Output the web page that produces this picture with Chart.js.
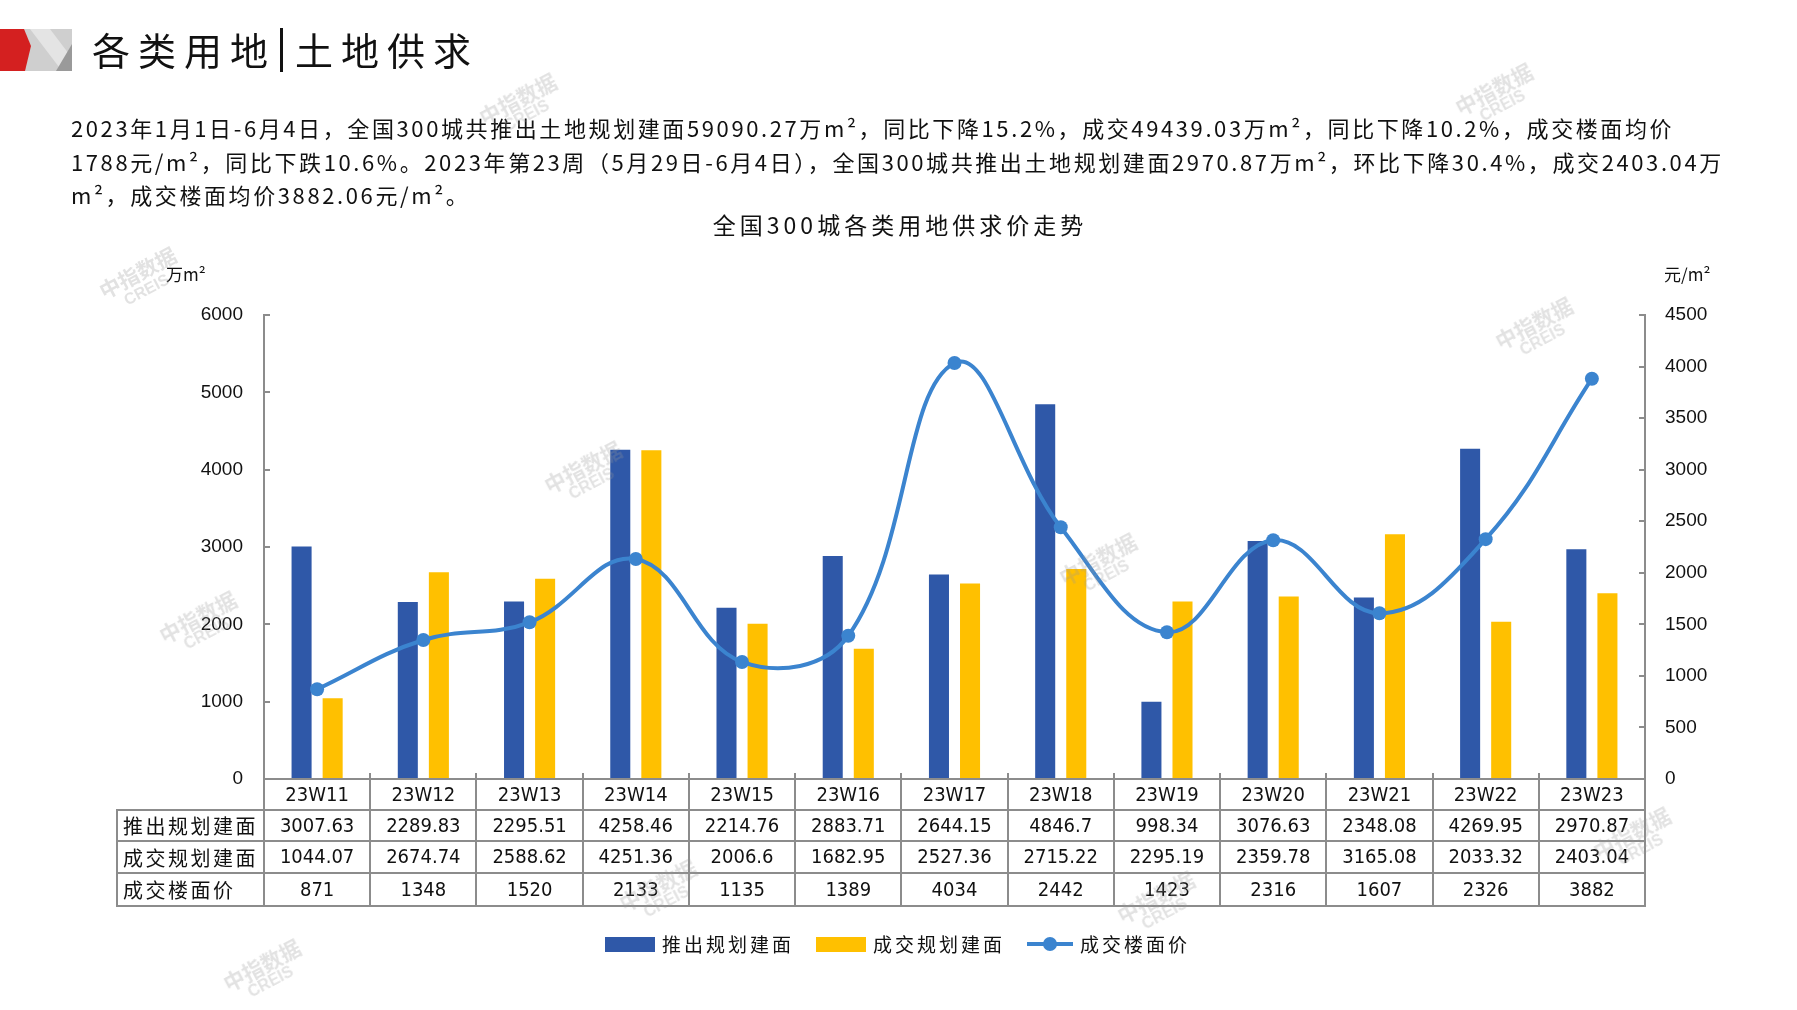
<!DOCTYPE html>
<html lang="zh-CN">
<head>
<meta charset="utf-8">
<title>各类用地|土地供求</title>
<script src="https://cdn.jsdelivr.net/npm/chart.js@4.4.1/dist/chart.umd.min.js"></script>
<style>
  html, body { margin: 0; padding: 0; background: #fff; }
  body { position: relative; width: 1797px; height: 1010px; overflow: hidden;
         font-family: "DejaVu Sans Condensed", "Noto Sans CJK SC", sans-serif; color: #111; }
  #landChart { position: absolute; left: 0; top: 0; }
  .logo { position: absolute; left: 0; top: 0; }
  .page-title { position: absolute; left: 92px; top: 24px; font-family: "Noto Sans CJK SC", sans-serif;
                font-size: 38px; line-height: 50px; letter-spacing: 8px; }
  .page-title .bar { display: inline-block; width: 3px; height: 44px; background: #111;
                     vertical-align: -7px; margin: 0 12px 0 4px; color: transparent; overflow: hidden; }
  .summary { position: absolute; left: 71px; top: 111px; font-family: "Noto Sans CJK SC", sans-serif;
             font-size: 22px; line-height: 33.5px; letter-spacing: 2.6px; white-space: nowrap; }
  .chart-title { position: absolute; left: 0; width: 1800px; top: 209px; text-align: center;
                 font-family: "Noto Sans CJK SC", sans-serif; font-size: 23px; line-height: 30px; letter-spacing: 4px; }
  .unit { position: absolute; top: 262px; font-family: "Noto Sans CJK SC", sans-serif; font-size: 17px; line-height: 24px; }
  .legend { position: absolute; left: 605px; top: 930px; display: flex; align-items: center;
            font-family: "Noto Sans CJK SC", sans-serif; font-size: 19px; line-height: 28px; }
  .legend .sw { display: inline-block; width: 50px; height: 15px; margin-right: 7px; }
  .legend .item { display: flex; align-items: center; margin-right: 22px; letter-spacing: 3px; }
  .legend .ln { position: relative; display: inline-block; width: 46px; height: 4px; margin-right: 7px; background: #3B84CF; }
  .legend .ln::after { content: ""; position: absolute; left: 16px; top: -5px; width: 14px; height: 14px; border-radius: 50%; background: #3B84CF; }
  .wm { position: absolute; transform: rotate(-28deg); color: rgba(150,150,150,0.28); font-family: "Noto Sans CJK SC", sans-serif;
        font-weight: bold; font-size: 21px; line-height: 19px; text-align: center; pointer-events: none; }
  .wm span { display: block; font-family: "Liberation Sans", sans-serif; font-size: 16px; }
</style>
</head>
<body>
<canvas id="landChart" width="1797" height="1010"></canvas>

<svg class="logo" width="80" height="80" viewBox="0 0 80 80">
  <polygon points="20,29 72,29 72,71 22,71" fill="#cfcfcf"/>
  <polygon points="30,29 50,29 72,58 72,71 62,71" fill="#e4e4e4"/>
  <polygon points="72,44 72,71 56,71" fill="#9a9a9a"/>
  <polygon points="0,29 24,29 31,46 25,71 0,71" fill="#d42020"/>
</svg>
<div class="page-title">各类用地<span class="bar">|</span>土地供求</div>

<div class="summary">2023年1月1日-6月4日，全国300城共推出土地规划建面59090.27万m²，同比下降15.2%，成交49439.03万m²，同比下降10.2%，成交楼面均价<br>1788元/m²，同比下跌10.6%。2023年第23周（5月29日-6月4日），全国300城共推出土地规划建面2970.87万m²，环比下降30.4%，成交2403.04万<br>m²，成交楼面均价3882.06元/m²。</div>

<div class="chart-title">全国300城各类用地供求价走势</div>
<div class="unit" style="left:166px">万m²</div>
<div class="unit" style="left:1664px">元/m²</div>

<div class="legend">
  <div class="item"><span class="sw" style="background:#2F58A8"></span>推出规划建面</div>
  <div class="item"><span class="sw" style="background:#FFC000"></span>成交规划建面</div>
  <div class="item"><span class="ln"></span>成交楼面价</div>
</div>

<div class="wm" style="left:100px;top:262px">中指数据<span>CREIS</span></div>
<div class="wm" style="left:480px;top:88px">中指数据<span>CREIS</span></div>
<div class="wm" style="left:545px;top:456px">中指数据<span>CREIS</span></div>
<div class="wm" style="left:160px;top:606px">中指数据<span>CREIS</span></div>
<div class="wm" style="left:1060px;top:548px">中指数据<span>CREIS</span></div>
<div class="wm" style="left:1456px;top:78px">中指数据<span>CREIS</span></div>
<div class="wm" style="left:1496px;top:312px">中指数据<span>CREIS</span></div>
<div class="wm" style="left:1594px;top:822px">中指数据<span>CREIS</span></div>
<div class="wm" style="left:620px;top:874px">中指数据<span>CREIS</span></div>
<div class="wm" style="left:1118px;top:886px">中指数据<span>CREIS</span></div>
<div class="wm" style="left:224px;top:954px">中指数据<span>CREIS</span></div>

<script>
// weekly land supply / deal data, 300 cities
const weeks = ['23W11', '23W12', '23W13', '23W14', '23W15', '23W16', '23W17', '23W18', '23W19', '23W20', '23W21', '23W22', '23W23'];
const supplyArea = [3007.63, 2289.83, 2295.51, 4258.46, 2214.76, 2883.71, 2644.15, 4846.7, 998.34, 3076.63, 2348.08, 4269.95, 2970.87];
const dealArea = [1044.07, 2674.74, 2588.62, 4251.36, 2006.6, 1682.95, 2527.36, 2715.22, 2295.19, 2359.78, 3165.08, 2033.32, 2403.04];
const dealPrice = [871, 1348, 1520, 2133, 1135, 1389, 4034, 2442, 1423, 2316, 1607, 2326, 3882];
const seriesNames = ['推出规划建面', '成交规划建面', '成交楼面价'];

const areaMax = 6000;
const areaStep = 1000;
const priceMax = 4500;
const priceStep = 500;

const BLUE = '#2F58A8';
const YELLOW = '#FFC000';
const LINE = '#3B84CF';
const AXIS = '#8c8c8c';
const NUM_FONT = '"DejaVu Sans Condensed", "Liberation Sans Narrow", sans-serif';

// data table under the plot, columns follow the x scale
const dataTable = {
  id: 'dataTable',
  afterDraw(chart) {
    const { ctx, chartArea } = chart;
    const x = chart.scales.x;
    const colW = (chartArea.right - chartArea.left) / weeks.length;
    const tableLeft = 117;
    const b = chartArea.bottom;
    const rowY = [b, b + 31, b + 62, b + 94, b + 127];
    const rows = [supplyArea, dealArea, dealPrice];

    ctx.save();
    ctx.strokeStyle = AXIS;
    ctx.lineWidth = 2;
    ctx.beginPath();
    ctx.moveTo(chartArea.left, rowY[0]);
    ctx.lineTo(chartArea.right, rowY[0]);
    for (let r = 1; r < rowY.length; r++) {
      ctx.moveTo(tableLeft, rowY[r]);
      ctx.lineTo(chartArea.right + 1, rowY[r]);
    }
    for (let i = 0; i <= weeks.length; i++) {
      const px = Math.round(chartArea.left + i * colW);
      const up = (i > 0 && i < weeks.length) ? 6 : 0;
      ctx.moveTo(px, rowY[0] - up);
      ctx.lineTo(px, rowY[4]);
    }
    ctx.moveTo(tableLeft, rowY[1] - 1);
    ctx.lineTo(tableLeft, rowY[4] + 1);
    ctx.stroke();

    ctx.fillStyle = '#111';
    ctx.textBaseline = 'middle';
    ctx.textAlign = 'center';
    ctx.font = '20px ' + NUM_FONT;
    weeks.forEach((w, i) => {
      const cx = x.getPixelForValue(i);
      ctx.fillText(w, cx, (rowY[0] + rowY[1]) / 2 + 1);
      rows.forEach((vals, r) => {
        ctx.fillText(String(vals[i]), cx, (rowY[r + 1] + rowY[r + 2]) / 2 + 1);
      });
    });

    ctx.textAlign = 'left';
    ctx.font = '20px "Noto Sans CJK SC", sans-serif';
    ctx.letterSpacing = '2.5px';
    seriesNames.forEach((n, r) => {
      ctx.fillText(n, tableLeft + 6, (rowY[r + 1] + rowY[r + 2]) / 2 + 1);
    });
    ctx.restore();
  }
};

const axisTicks = {
  color: '#111',
  font: { family: '"Liberation Sans", Arial, sans-serif', size: 19 },
  padding: 27,
  callback: (v) => String(v)
};

new Chart(document.getElementById('landChart').getContext('2d'), {
  type: 'bar',
  data: {
    labels: weeks,
    datasets: [
      {
        type: 'line',
        label: seriesNames[2],
        data: dealPrice,
        yAxisID: 'y1',
        borderColor: LINE,
        backgroundColor: LINE,
        borderWidth: 4,
        pointRadius: 7,
        pointHoverRadius: 7,
        pointBorderWidth: 0,
        tension: 0.4,
        order: 0
      },
      {
        label: seriesNames[0],
        data: supplyArea,
        yAxisID: 'y',
        backgroundColor: BLUE,
        barPercentage: 0.645,
        categoryPercentage: 0.585,
        order: 1
      },
      {
        label: seriesNames[1],
        data: dealArea,
        yAxisID: 'y',
        backgroundColor: YELLOW,
        barPercentage: 0.645,
        categoryPercentage: 0.585,
        order: 1
      }
    ]
  },
  options: {
    responsive: false,
    animation: false,
    layout: { padding: { left: 150, right: 80, top: 315, bottom: 231 } },
    plugins: {
      legend: { display: false },
      title: { display: false },
      tooltip: { enabled: false }
    },
    scales: {
      x: { display: false, offset: true },
      y: {
        position: 'left',
        min: 0,
        max: areaMax,
        ticks: { ...axisTicks, stepSize: areaStep },
        grid: { drawOnChartArea: false, tickLength: -6, color: AXIS, lineWidth: 2 },
        border: { color: AXIS, width: 2 },
        afterFit(scale) { scale.width = 114; }
      },
      y1: {
        position: 'right',
        min: 0,
        max: priceMax,
        ticks: { ...axisTicks, stepSize: priceStep, padding: 26 },
        grid: { drawOnChartArea: false, tickLength: -6, color: AXIS, lineWidth: 2 },
        border: { color: AXIS, width: 2 },
        afterFit(scale) { scale.width = 72; }
      }
    }
  },
  plugins: [dataTable]
});
</script>
</body>
</html>
